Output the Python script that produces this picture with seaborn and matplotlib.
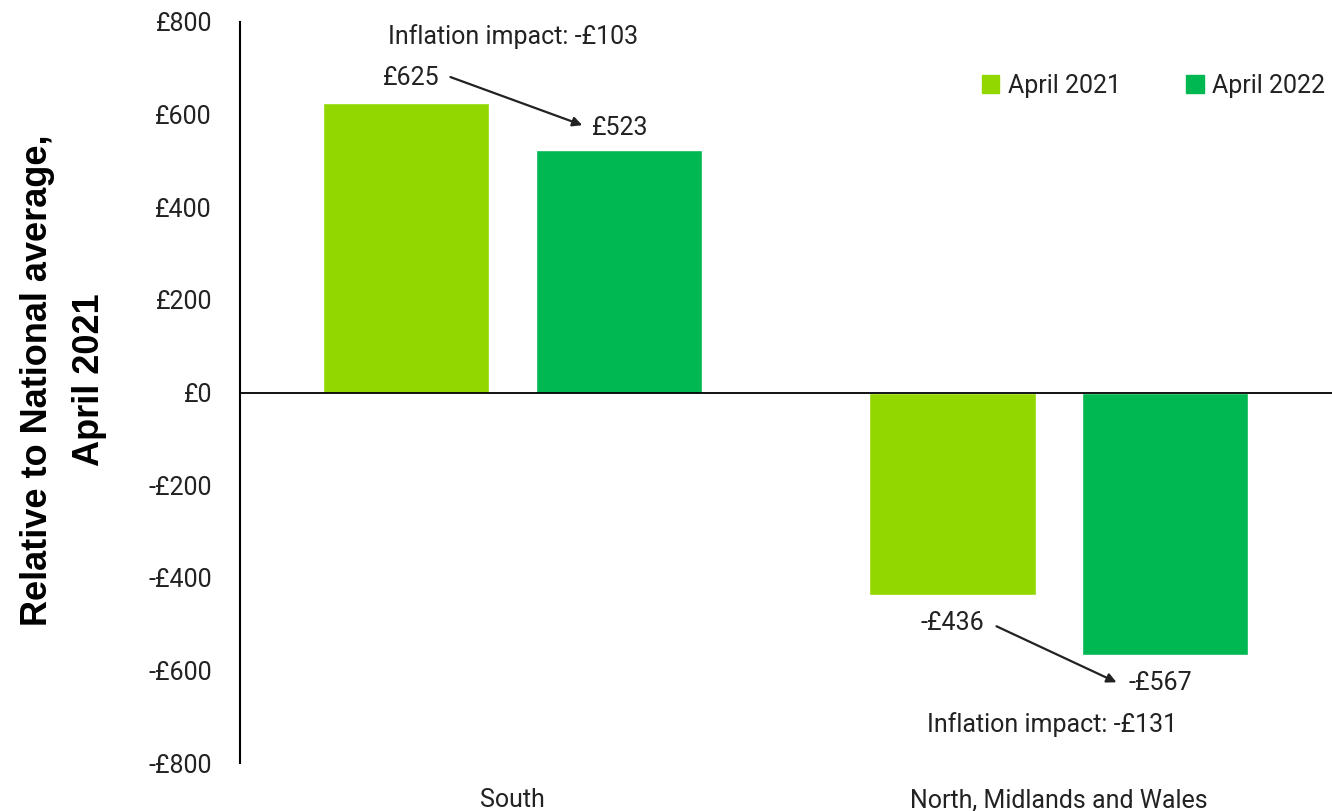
import pandas as pd
import seaborn as sns
import matplotlib.pyplot as plt

# ---- data ----
regions = ["South", "North, Midlands and Wales"]
periods = ["April 2021", "April 2022"]
april_2021 = [625, -436]
april_2022 = [523, -567]
impact_labels = ["Inflation impact: -£103", "Inflation impact: -£131"]
yticks = [-800, -600, -400, -200, 0, 200, 400, 600, 800]

df = pd.DataFrame({
    "region": regions * 2,
    "period": [periods[0]] * 2 + [periods[1]] * 2,
    "value": april_2021 + april_2022,
})

sns.set_theme(style="white")
plt.rcParams["font.family"] = ["Roboto", "DejaVu Sans"]

colors = ["#92D800", "#00B852"]
txt = "#222222"
fs = 18

fig = plt.figure(figsize=(13.32, 8.11), dpi=100)
ax = fig.add_axes([0.180, 0.059, 0.820, 0.914])

sns.barplot(data=df, x="region", y="value", hue="period", palette=colors,
            width=0.78, gap=0.22, saturation=1, ax=ax, legend=False)

ax.set_xlim(-0.5, 1.5)
ax.set_ylim(-800, 800)
ax.set_yticks(yticks)
ax.set_yticklabels([f"£{v}" if v >= 0 else f"-£{-v}" for v in yticks])
ax.tick_params(axis="y", length=0, pad=20, labelsize=fs, colors=txt)
ax.tick_params(axis="x", length=0, pad=18, labelsize=fs, colors=txt)
ax.set_xlabel("")

ax.set_ylabel("Relative to National average,\nApril 2021", fontsize=26,
              fontweight="bold", family=["Liberation Sans", "DejaVu Sans"],
              color="black", linespacing=1.6)
ax.yaxis.set_label_coords(-0.122, 0.517)

for s in ["top", "right", "bottom"]:
    ax.spines[s].set_visible(False)
ax.spines["left"].set_color("black")
ax.spines["left"].set_linewidth(1.5)
ax.axhline(0, color="black", lw=1.3, zorder=3)

# value labels joined by arrows
offs = 0.196
lab_style = dict(fontsize=fs, color=txt, ha="center", va="center")
arrow = dict(arrowstyle="-|>", color=txt, lw=1.6, mutation_scale=14)

# South
ax.text(-offs + 0.01, 678, f"£{april_2021[0]}", **lab_style)
ax.text(offs, 572, f"£{april_2022[0]}", **lab_style)
ax.annotate("", xy=(0.132, 575), xytext=(-0.119, 683), arrowprops=arrow)
ax.text(0.0, 769, impact_labels[0], **lab_style)

# North
ax.text(1 - offs, -497, f"-£{-april_2021[1]}", **lab_style)
ax.text(1 + offs - 0.01, -626, f"-£{-april_2022[1]}", **lab_style)
ax.annotate("", xy=(1.11, -628), xytext=(0.881, -502), arrowprops=arrow)
ax.text(0.987, -717, impact_labels[1], **lab_style)

handles = [plt.Rectangle((0, 0), 1, 1, color=c) for c in colors]
ax.legend(handles, periods, loc="center right", bbox_to_anchor=(1.003, 0.914),
          ncol=2, frameon=False, fontsize=fs, handlelength=0.7,
          handleheight=0.7, handletextpad=0.35, columnspacing=2.6,
          borderaxespad=0, labelcolor=txt)

fig.savefig("out.png", dpi=100)
